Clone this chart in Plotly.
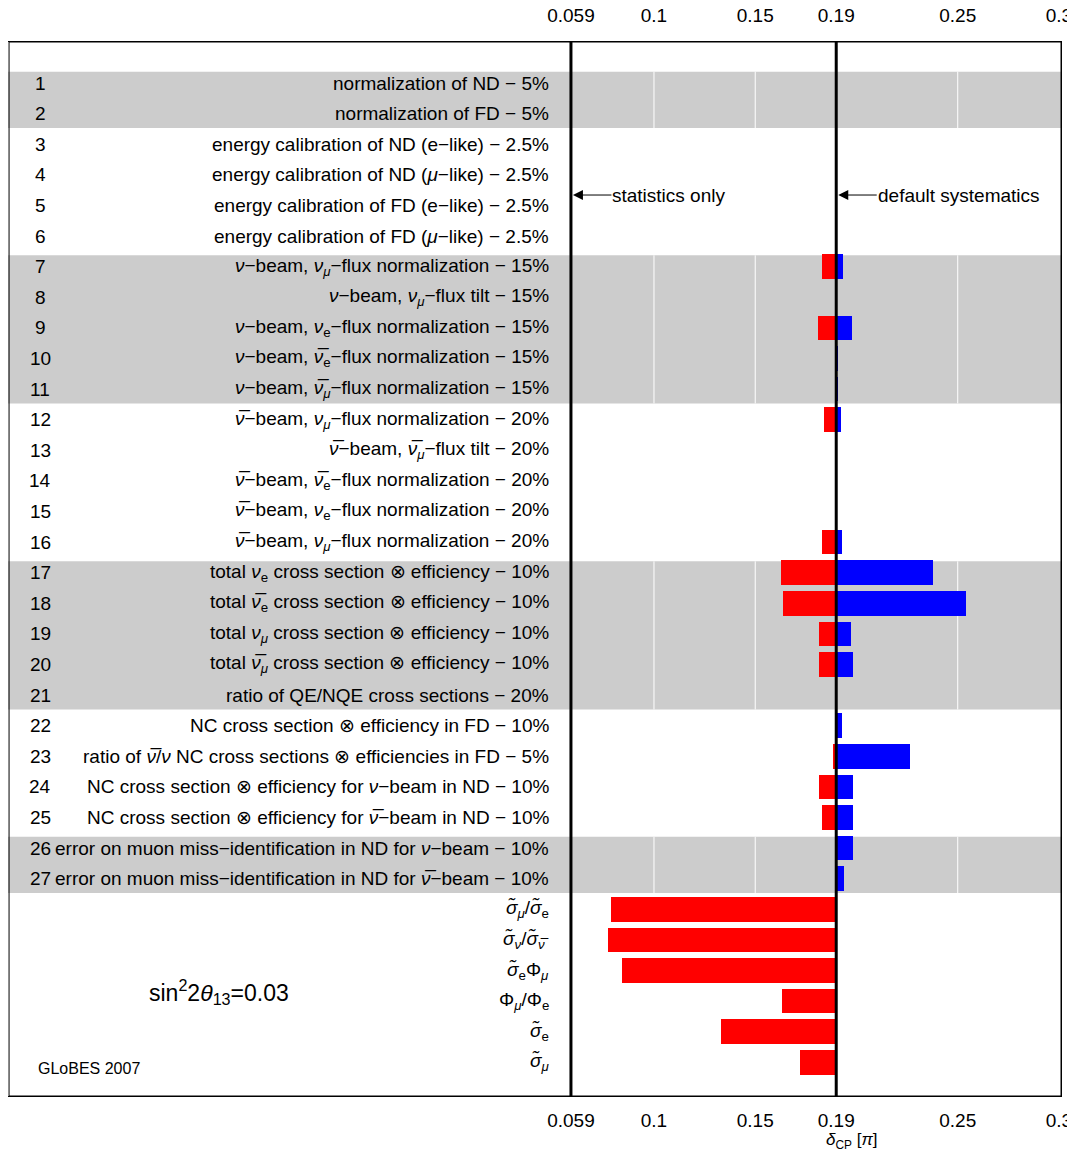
import plotly.graph_objects as go

# systematics rows 1..27
labels = [
    "normalization of ND − 5%",
    "normalization of FD − 5%",
    "energy calibration of ND (e−like) − 2.5%",
    "energy calibration of ND (<i>μ</i>−like) − 2.5%",
    "energy calibration of FD (e−like) − 2.5%",
    "energy calibration of FD (<i>μ</i>−like) − 2.5%",
    "<i>ν</i>−beam, <i>ν</i><sub><i>μ</i></sub>−flux normalization − 15%",
    "<i>ν</i>−beam, <i>ν</i><sub><i>μ</i></sub>−flux tilt − 15%",
    "<i>ν</i>−beam, <i>ν</i><sub>e</sub>−flux normalization − 15%",
    "<i>ν</i>−beam, <i>ν̅</i><sub>e</sub>−flux normalization − 15%",
    "<i>ν</i>−beam, <i>ν̅</i><sub><i>μ</i></sub>−flux normalization − 15%",
    "<i>ν̅</i>−beam, <i>ν</i><sub><i>μ</i></sub>−flux normalization − 20%",
    "<i>ν̅</i>−beam, <i>ν̅</i><sub><i>μ</i></sub>−flux tilt − 20%",
    "<i>ν̅</i>−beam, <i>ν̅</i><sub>e</sub>−flux normalization − 20%",
    "<i>ν̅</i>−beam, <i>ν</i><sub>e</sub>−flux normalization − 20%",
    "<i>ν̅</i>−beam, <i>ν</i><sub><i>μ</i></sub>−flux normalization − 20%",
    "total <i>ν</i><sub>e</sub> cross section ⊗ efficiency − 10%",
    "total <i>ν̅</i><sub>e</sub> cross section ⊗ efficiency − 10%",
    "total <i>ν</i><sub><i>μ</i></sub> cross section ⊗ efficiency − 10%",
    "total <i>ν̅</i><sub><i>μ</i></sub> cross section ⊗ efficiency − 10%",
    "ratio of QE/NQE cross sections − 20%",
    "NC cross section ⊗ efficiency in FD − 10%",
    "ratio of <i>ν̅</i>/<i>ν</i> NC cross sections ⊗ efficiencies in FD − 5%",
    "NC cross section ⊗ efficiency for <i>ν</i>−beam in ND − 10%",
    "NC cross section ⊗ efficiency for <i>ν̅</i>−beam in ND − 10%",
    "error on muon miss−identification in ND for <i>ν</i>−beam − 10%",
    "error on muon miss−identification in ND for <i>ν̅</i>−beam − 10%",
]
sigma_labels = [
    "<i>σ̃</i><sub><i>μ</i></sub>/<i>σ̃</i><sub>e</sub>",
    "<i>σ̃</i><sub><i>ν</i></sub>/<i>σ̃</i><sub><i>ν̅</i></sub>",
    "<i>σ̃</i><sub>e</sub>Φ<sub><i>μ</i></sub>",
    "Φ<sub><i>μ</i></sub>/Φ<sub>e</sub>",
    "<i>σ̃</i><sub>e</sub>",
    "<i>σ̃</i><sub><i>μ</i></sub>",
]

default = 0.19
stat_only = 0.059

# lower / upper edge of the delta_CP precision for each row (1..33)
low = [0.19, 0.19, 0.19, 0.19, 0.1895, 0.19, 0.1831, 0.19, 0.1811, 0.1898, 0.19,
       0.1841, 0.19, 0.1895, 0.19, 0.1831, 0.1629, 0.1639, 0.1816, 0.1816, 0.19,
       0.19, 0.1885, 0.1816, 0.1831, 0.19, 0.19,
       0.0790, 0.0775, 0.0844, 0.1634, 0.1333, 0.1723]
high = [0.19, 0.19, 0.19, 0.19, 0.19, 0.19, 0.1935, 0.19, 0.1979, 0.1905, 0.1905,
        0.1925, 0.19, 0.19, 0.19, 0.1930, 0.2379, 0.2542, 0.1974, 0.1984, 0.19,
        0.1930, 0.2266, 0.1984, 0.1984, 0.1984, 0.1940,
        0.19, 0.19, 0.19, 0.19, 0.19, 0.19]

grey_bands = [(1, 2), (7, 11), (17, 21), (26, 27)]
ticks = [0.059, 0.1, 0.15, 0.19, 0.25, 0.3]

rows = list(range(1, len(low) + 1))
fig = go.Figure()
fig.add_trace(go.Bar(y=rows, x=[default - l for l in low], base=low, orientation="h",
                     marker=dict(color="#ff0000", line_width=0), width=0.8, showlegend=False))
fig.add_trace(go.Bar(y=rows, x=[h - default for h in high], base=[default] * len(rows),
                     orientation="h", marker=dict(color="#0000ff", line_width=0),
                     width=0.8, showlegend=False, xaxis="x2"))

shapes = []
for a, b in grey_bands:
    shapes.append(dict(type="rect", xref="paper", x0=0, x1=1, y0=a - 0.37, y1=b + 0.47,
                       fillcolor="#cccccc", line_width=0, layer="below"))
    for g in [0.1, 0.15, 0.25]:
        shapes.append(dict(type="line", x0=g, x1=g, y0=a - 0.37, y1=b + 0.47,
                           line=dict(color="white", width=1), layer="below"))
for v in [stat_only, default]:
    shapes.append(dict(type="line", x0=v, x1=v, yref="paper", y0=0, y1=1,
                       line=dict(color="black", width=3)))
shapes.append(dict(type="rect", xref="paper", yref="paper", x0=0.001, x1=1, y0=0, y1=1,
                   line=dict(color="black", width=1)))

ann = []
for i, t in enumerate(labels):
    ann.append(dict(x=-0.203, y=i + 1, text=str(i + 1), showarrow=False, xanchor="center"))
    ann.append(dict(x=0.049, y=i + 1, text=t, showarrow=False, xanchor="right"))
for i, t in enumerate(sigma_labels):
    ann.append(dict(x=0.049, y=28 + i, text=t, showarrow=False, xanchor="right"))
arrow = dict(text="", showarrow=True, arrowhead=2, arrowsize=2, arrowwidth=1,
             arrowcolor="black", ax=42, ay=0, standoff=2)
ann += [
    dict(arrow, x=stat_only, y=4.66),
    dict(x=0.0785, y=4.66, text="statistics only", showarrow=False, xanchor="left"),
    dict(arrow, x=default, y=4.66),
    dict(x=0.2095, y=4.66, text="default systematics", showarrow=False, xanchor="left"),
    dict(x=-0.115, y=30.7, text="sin<sup>2</sup>2<i>θ</i><sub>13</sub>=0.03",
         showarrow=False, font=dict(size=23)),
    dict(x=-0.179, y=33.2, text="GLoBES 2007", showarrow=False, font=dict(size=16)),
    dict(x=0.198, y=-0.03, yref="paper", text="<i>δ</i><sub>CP</sub> [<i>π</i>]",
         showarrow=False, yanchor="top", font=dict(size=17)),
]

axis = dict(range=[-0.219, 0.301], tickvals=ticks, ticktext=[str(t) for t in ticks],
            showgrid=False, zeroline=False, showline=True, linecolor="black",
            mirror=True, ticks="", tickfont=dict(size=19), automargin=False)
fig.update_layout(
    width=1075, height=1151, plot_bgcolor="white", paper_bgcolor="white",
    barmode="overlay", bargap=0,
    margin=dict(l=0, r=22, t=34, b=63),
    font=dict(family="Liberation Sans, Arial", size=19, color="black"),
    xaxis=dict(axis, ticklabelstandoff=7),
    xaxis2=dict(axis, overlaying="x", side="top", matches="x", ticklabelstandoff=11),
    yaxis=dict(range=[34.1, -0.34], showticklabels=False, showgrid=False,
               zeroline=False, showline=True, linecolor="black", mirror=True,
               automargin=False),
    shapes=shapes, annotations=ann,
)
fig.write_html("out.html")
